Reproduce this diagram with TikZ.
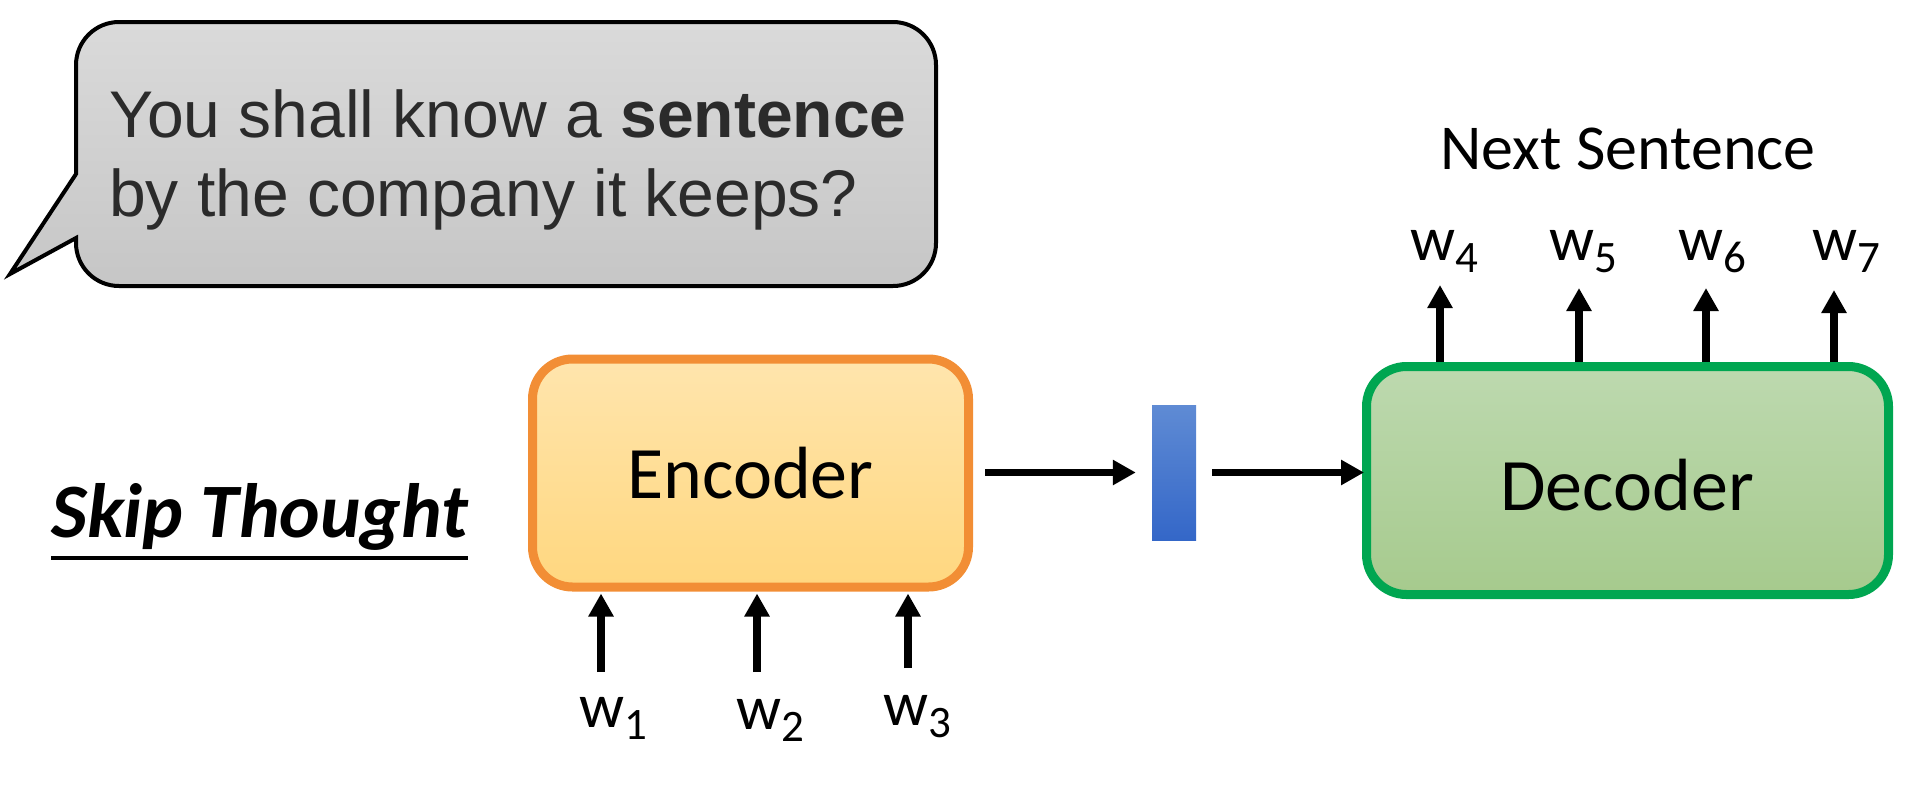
\documentclass[tikz,border=0pt]{standalone}
\usepackage{fontspec}
\setmainfont{Carlito}
\newfontfamily\arialfont{Liberation Sans}
\usetikzlibrary{arrows.meta}
\definecolor{bubtop}{HTML}{DADADA}
\definecolor{bubbot}{HTML}{C6C6C6}
\definecolor{bubtext}{HTML}{2B2B2B}
\definecolor{enctop}{HTML}{FFE5AD}
\definecolor{encbot}{HTML}{FFD77F}
\definecolor{encline}{HTML}{F28E35}
\definecolor{dectop}{HTML}{BDD9AF}
\definecolor{decbot}{HTML}{A6CA8D}
\definecolor{decline}{HTML}{00A651}
\definecolor{bartop}{HTML}{5F8BD4}
\definecolor{barbot}{HTML}{3467C8}
\newcommand{\wlab}[1]{{\fontsize{63}{63}\selectfont w\raisebox{-12pt}{\fontsize{45}{45}\selectfont #1}}}
\begin{document}
\begin{tikzpicture}[x=1pt,y=-1pt,
  arr/.style={line width=7.5pt,-{Triangle[length=23pt,width=24pt]}},
  blockbox/.style={draw,line width=9pt,rounded corners=40pt,minimum width=#1,minimum height=228pt,inner sep=0pt,
     font=\fontsize{74}{80}\selectfont},
  wl/.style={anchor=base west,inner sep=0pt},
  qtext/.style={anchor=base west,inner sep=0pt,text=bubtext,font=\arialfont\fontsize{66}{79}\selectfont}
]
\useasboundingbox (0,0) rectangle (1924,788);
% speech bubble
\draw[line width=4pt,top color=bubtop,bottom color=bubbot,line join=miter]
  (76,174) -- (76,65) .. controls (76,41.25) and (95.25,22) .. (119,22)
  -- (893,22) .. controls (916.75,22) and (936,41.25) .. (936,65)
  -- (936,243) .. controls (936,266.75) and (916.75,286) .. (893,286)
  -- (119,286) .. controls (95.25,286) and (76,266.75) .. (76,243)
  -- (76,238) -- (10,274) -- cycle;
\node[qtext] (q1) at (109,137) {You shall know a \textbf{sentence}};
\node[qtext] (q2) at (109,216) {by the company it keeps?};
% Skip Thought
\node[anchor=base west,inner sep=0pt,font=\fontsize{77}{80}\selectfont\bfseries\itshape] (st) at (51,537) {Skip Thought};
\draw[line width=4pt] ([yshift=-21pt]st.base west) -- ([yshift=-21pt]st.base east);
% blocks
\node[blockbox=436pt,top color=enctop,bottom color=encbot,draw=encline] (enc) at (750.5,473) {Encoder};
\node[inner sep=0pt,minimum width=44pt,minimum height=135pt,top color=bartop,bottom color=barbot] (bar) at (1174,472.5) {};
\node[blockbox=522pt,top color=dectop,bottom color=decbot,draw=decline] (dec) at (1627.5,480.5) {};
\node[font=\fontsize{74}{80}\selectfont,inner sep=0pt] (dectext) at (1627,485) {Decoder};
\node[anchor=base,inner sep=0pt,font=\fontsize{64}{70}\selectfont] (next) at (1628,169) {Next Sentence};
% connectors between blocks
\draw[arr,shorten <=12pt,shorten >=16pt] (enc.east |- bar.west) -- (bar.west);
\draw[arr,shorten <=16pt,shorten >=-2pt] (bar.east) -- (bar.east -| dec.west);
% inputs
\coordinate (i1) at (601,672);
\coordinate (i2) at (757,672);
\coordinate (i3) at (908,668);
\foreach \i in {1,2,3}{\draw[arr] (i\i) -- ([yshift=-2pt]i\i |- enc.south);}
\node[wl] (w1) at (579,727) {\wlab{1}};
\node[wl] (w2) at (736,729) {\wlab{2}};
\node[wl] (w3) at (883,725) {\wlab{3}};
% outputs
\coordinate (o4) at (1440,285);
\coordinate (o5) at (1579,288);
\coordinate (o6) at (1706,288);
\coordinate (o7) at (1834,290);
\foreach \i in {4,5,6,7}{\draw[arr] (o\i |- dec.north) -- (o\i);}
\node[wl] (w4) at (1410,260) {\wlab{4}};
\node[wl] (w5) at (1549,260) {\wlab{5}};
\node[wl] (w6) at (1678,260) {\wlab{6}};
\node[wl] (w7) at (1812,260) {\wlab{7}};
\end{tikzpicture}
\end{document}
